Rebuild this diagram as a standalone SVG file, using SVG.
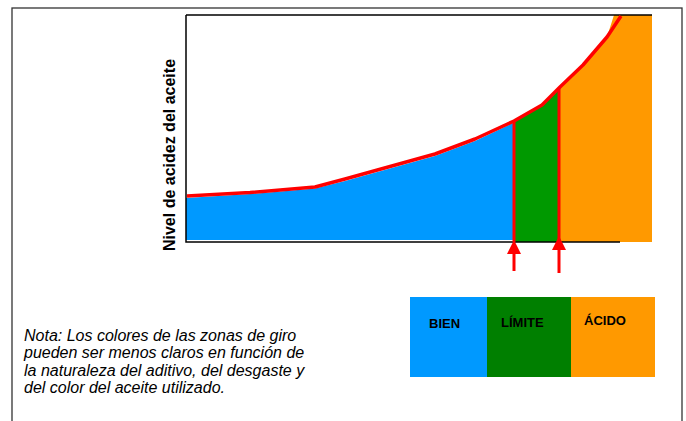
<svg xmlns="http://www.w3.org/2000/svg" width="686" height="421" viewBox="0 0 686 421">
<style>
.frame{fill:#fff;stroke:#333;stroke-width:1.3}
.axis{stroke:#000;stroke-width:1.5;fill:none}
.red{stroke:#ff0000;fill:none;stroke-linejoin:round;stroke-linecap:butt}
.lbl{font-family:"Liberation Sans",Arial,sans-serif;font-weight:bold;font-size:13px;fill:#000}
.note{font-family:"Liberation Sans",Arial,sans-serif;font-style:italic;font-size:16px;fill:#000}
.ylab{font-family:"Liberation Sans",Arial,sans-serif;font-weight:bold;font-size:16px;fill:#000}
.head{fill:#ff0000}
</style>
<rect class="frame" x="12" y="8" width="670" height="460"/>
<g id="chart">
<polygon id="zone-bien" fill="#0099ff" points="186,198 250,194 315,188.5 345,181 390,168.5 435,156 475,141 513,123 513,240 186,240"/>
<polygon id="zone-limite" fill="#009900" points="513,121 542,105 559,88 559,242 513,242"/>
<polygon id="zone-acido" fill="#ff9900" points="559,87 583,65 607,37 614,15 652,15 652,242 559,242"/>
<path class="axis" d="M186,15 H652 M186,15 V242 H620"/>
<polyline class="red" stroke-width="3.5" points="187,196 250,192.5 315,187 345,179 390,166.5 435,154 475,139 514,121 542,105 560,87 583,65 607,37 621,16"/>
<line class="red" stroke-width="3" x1="514" y1="122" x2="514" y2="242"/>
<line class="red" stroke-width="3" x1="559" y1="88" x2="559" y2="242"/>
</g>
<g id="connectors">
<path class="head" d="M514,240 L521,254 L507,254 Z"/>
<line class="red" stroke-width="3" x1="514" y1="253" x2="514" y2="271"/>
<path class="head" d="M559,236 L566,250 L552,250 Z"/>
<line class="red" stroke-width="3" x1="559" y1="249" x2="559" y2="273"/>
</g>
<g id="y-label">
<text class="ylab" transform="translate(175,155) rotate(-90)" text-anchor="middle">Nivel de acidez del aceite</text>
</g>
<g id="legend">
<g id="legend-bien"><rect x="410" y="297" width="77" height="80" fill="#0099ff"/><text class="lbl" x="429" y="328">BIEN</text></g>
<g id="legend-limite"><rect x="487" y="297" width="84" height="80" fill="#007f00"/><text class="lbl" x="501" y="327">LÍMITE</text></g>
<g id="legend-acido"><rect x="571" y="297" width="84" height="80" fill="#ff9900"/><text class="lbl" x="584" y="325">ÁCIDO</text></g>
</g>
<g id="note">
<text class="note" x="24" y="341">Nota: Los colores de las zonas de giro</text>
<text class="note" x="24" y="358">pueden ser menos claros en función de</text>
<text class="note" x="24" y="376">la naturaleza del aditivo, del desgaste y</text>
<text class="note" x="24" y="393">del color del aceite utilizado.</text>
</g>
</svg>
